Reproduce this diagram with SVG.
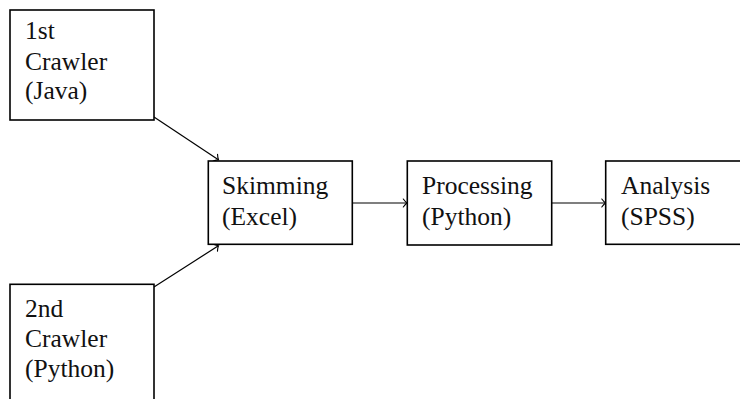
<svg xmlns="http://www.w3.org/2000/svg" width="740" height="399" viewBox="0 0 740 399">
<style>
.box{fill:#fff;stroke:#000;stroke-width:1.6}
.lbl{font-family:"Liberation Serif","Times New Roman",serif;font-size:25.5px;fill:#111}
.con{fill:none;stroke:#000;stroke-width:1.2}
</style>
<defs>
<marker id="arr" markerUnits="userSpaceOnUse" markerWidth="12" markerHeight="12" viewBox="-6 -6 12 12" refX="0" refY="0" orient="auto">
<path d="M-3.2,-4 Q-1,-1 0.6,0 Q-1,1 -3.2,4" fill="none" stroke="#000" stroke-width="1.1" stroke-linecap="round"/>
</marker>
</defs>
<g id="connectors">
<line class="con" x1="154" y1="117" x2="218" y2="159.5" marker-end="url(#arr)"/>
<line class="con" x1="154" y1="287" x2="218" y2="246" marker-end="url(#arr)"/>
<line class="con" x1="352.5" y1="203" x2="406.5" y2="203" marker-end="url(#arr)"/>
<line class="con" x1="552" y1="203" x2="605" y2="203" marker-end="url(#arr)"/>
</g>
<g id="crawler1">
<rect class="box" x="10" y="10" width="144" height="110"/>
<text class="lbl" x="25" y="39">1st</text>
<text class="lbl" x="25" y="69.5">Crawler</text>
<text class="lbl" x="25" y="99">(Java)</text>
</g>
<g id="crawler2">
<rect class="box" x="10" y="284.3" width="144" height="130"/>
<text class="lbl" x="25" y="316.5">2nd</text>
<text class="lbl" x="25" y="347">Crawler</text>
<text class="lbl" x="25" y="376.5">(Python)</text>
</g>
<g id="skimming">
<rect class="box" x="208.3" y="161" width="144" height="83.3"/>
<text class="lbl" x="222" y="194">Skimming</text>
<text class="lbl" x="222" y="224.5">(Excel)</text>
</g>
<g id="processing">
<rect class="box" x="407.3" y="161" width="144.4" height="84"/>
<text class="lbl" x="422" y="194">Processing</text>
<text class="lbl" x="422" y="224.5">(Python)</text>
</g>
<g id="analysis">
<rect class="box" x="605.7" y="161" width="150" height="83.3"/>
<text class="lbl" x="621" y="194">Analysis</text>
<text class="lbl" x="621" y="224.5">(SPSS)</text>
</g>
</svg>
